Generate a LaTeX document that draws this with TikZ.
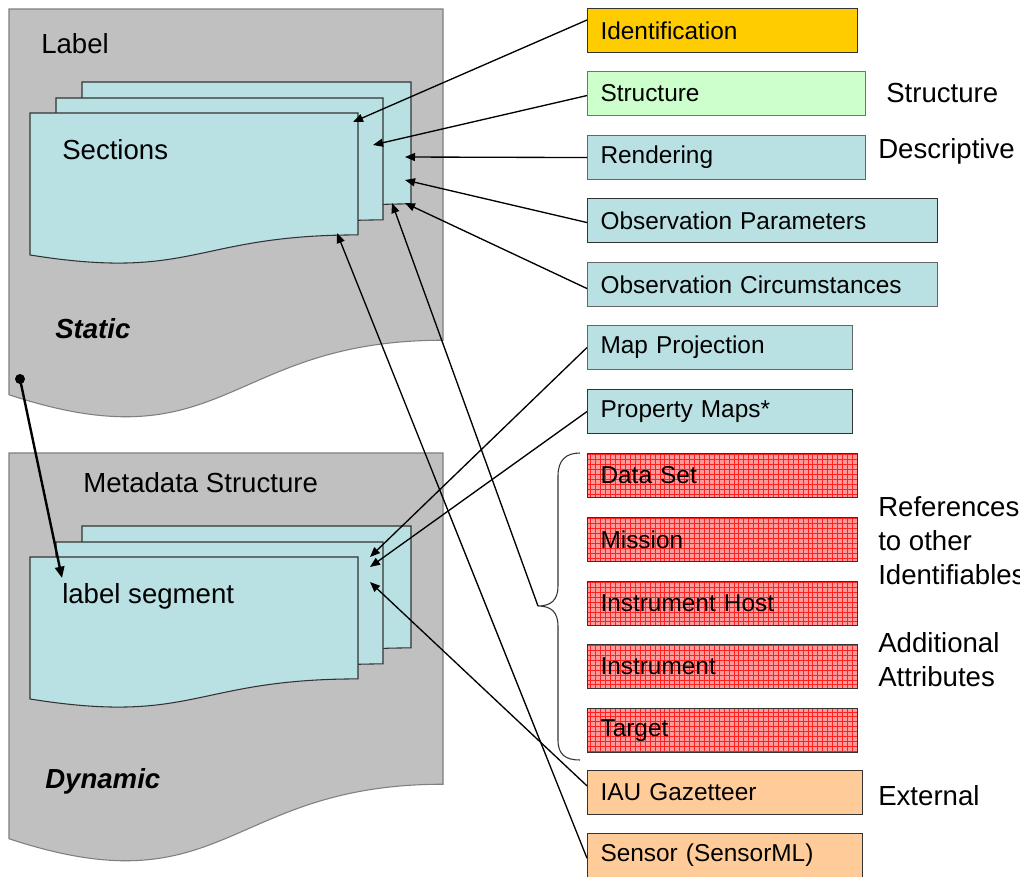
\documentclass[tikz,border=0pt]{standalone}
\usepackage{fontspec}
\setmainfont{Liberation Sans}
\usetikzlibrary{arrows.meta,calc}
\definecolor{docgray}{HTML}{C0C0C0}
\definecolor{docline}{HTML}{7F7F7F}
\definecolor{pagecyan}{HTML}{B9E0E3}
\definecolor{gold}{HTML}{FFCC00}
\definecolor{lgreen}{HTML}{CCFFCC}
\definecolor{peach}{HTML}{FFCC99}
\definecolor{gridred}{HTML}{FF9A9A}
\definecolor{gridline}{HTML}{FF2020}
\newcommand\docshape[5]{\path[#1] (#2,#3) -- (#2+#4,#3) -- (#2+#4,#3+0.802*#5) .. controls (#2+0.5*#4,#3+0.802*#5) and (#2+0.5*#4,#3+1.1075*#5) .. (#2,#3+0.934*#5) -- cycle;}
\begin{document}
\begin{tikzpicture}[x=0.75pt,y=-0.75pt,
  box/.style={draw=black!80, line width=0.8pt, anchor=north west, minimum height=33pt,
    inner xsep=9.75pt, inner ysep=0pt, align=left, font=\fontsize{18.3}{22}\selectfont},
  redbox/.style={box, fill=gridred, path picture={\draw[gridline, line width=0.3pt, step=3.7pt]
    (path picture bounding box.south west) grid (path picture bounding box.north east);}},
  lbl/.style={anchor=base west, inner sep=0pt, font=\fontsize{20.7}{25.5}\selectfont},
  arr/.style={line width=1pt, -{Triangle[length=7.5pt,width=6pt]}},
  grayshape/.style={fill=docgray, draw=docline, line width=0.8pt},
  pageshape/.style={fill=pagecyan, draw=black!80, line width=0.8pt}]
\useasboundingbox (0,0) rectangle (1026,876);
\fill[white] (0,0) rectangle (1026,876);

% left documents
\docshape{grayshape}{9}{9}{434}{413}
\docshape{pageshape}{82}{82}{329}{152}
\docshape{pageshape}{56}{98}{327}{152}
\docshape{pageshape}{30}{113}{328}{152}
\docshape{grayshape}{9}{453}{434}{413}
\docshape{pageshape}{82}{526}{329}{152}
\docshape{pageshape}{56}{542}{327}{152}
\docshape{pageshape}{30}{557}{328}{152}

\node[lbl] (labelT) at (41,53) {Label};
\node[lbl] (sectT) at (62,159) {Sections};
\node[lbl] (staticT) at (55,338) {\bfseries\itshape Static};
\node[lbl] (metaT) at (83,492) {Metadata Structure};
\node[lbl] (segT) at (62,603) {label segment};
\node[lbl] (dynT) at (45,788) {\bfseries\itshape Dynamic};

% right boxes
\node[box, fill=gold, text width=183pt] (ident) at (587,8) {Identification};
\node[box, fill=lgreen, draw=black!55, text width=189pt] (struct) at (587,71) {Structure};
\node[box, fill=pagecyan, draw=black!60, text width=189pt] (rend) at (587,135) {Rendering};
\node[box, fill=pagecyan, text width=243pt] (obsp) at (587,198) {Observation Parameters};
\node[box, fill=pagecyan, draw=black!60, text width=243pt] (obsc) at (587,262) {Observation Circumstances};
\node[box, fill=pagecyan, draw=black!60, text width=179.25pt] (mapp) at (587,325) {Map Projection};
\node[box, fill=pagecyan, text width=179.25pt] (propm) at (587,389) {Property Maps*};
\node[redbox, text width=183pt] (dset) at (587,453) {Data Set};
\node[redbox, text width=183pt] (miss) at (587,517) {Mission};
\node[redbox, text width=183pt] (ihost) at (587,581) {Instrument Host};
\node[redbox, text width=183pt] (instr) at (587,644) {Instrument};
\node[redbox, text width=183pt] (targ) at (587,708) {Target};
\node[box, fill=peach, text width=186.75pt] (iau) at (587,770) {IAU Gazetteer};
\node[box, fill=peach, text width=186.75pt] (sens) at (587,833) {Sensor (SensorML)};

% right labels (cut at the right edge as in the picture)
\begin{scope}
\clip (860,0) rectangle (1019,876);
\node[lbl] (lStruct) at (886,102) {Structure};
\node[lbl] (lDesc) at (878,158) {Descriptive};
\node[lbl] (lRef1) at (878,516) {References};
\node[lbl] (lRef2) at (878,550) {to other};
\node[lbl] (lRef3) at (878,584) {Identifiables};
\node[lbl] (lAdd1) at (878,652) {Additional};
\node[lbl] (lAdd2) at (878,686) {Attributes};
\node[lbl] (lExt) at (878,805) {External};
\end{scope}

% brace
\draw[black!80, line width=0.8pt] (580,453) .. controls (566,453) and (558,460) .. (558,476)
  -- (558,586) .. controls (558,600) and (551,606) .. (538,606)
  .. controls (551,606) and (558,612) .. (558,626)
  -- (558,740) .. controls (558,755) and (566,760) .. (580,760);
\coordinate (braceTip) at (538,606);

% target points
\coordinate (tI) at (353,122);
\coordinate (tS) at (373,145);
\coordinate (tR) at (405,157);
\coordinate (tOP) at (405,180);
\coordinate (tOC) at (405,203);
\coordinate (tB) at (392,203);
\coordinate (tF) at (337,233);
\coordinate (tMP) at (370,557);
\coordinate (tPM) at (370,567);
\coordinate (tIAU) at (370,582);
\coordinate (tSeg) at (62,578);
\node[circle, fill=black, inner sep=0pt, minimum size=7.5pt] (dot) at (20,379) {};

% connectors
\draw[arr] ([yshift=7.9pt]ident.west) -- (tI);
\draw[arr] ([yshift=-1.5pt]struct.west) -- (tS);
\draw[arr] (rend.west) -- (tR);
\draw[arr] ([yshift=-1.5pt]obsp.west) -- (tOP);
\draw[arr] ([yshift=-3pt]obsc.west) -- (tOC);
\draw[arr] (mapp.west) -- (tMP);
\draw[arr] (propm.west) -- (tPM);
\draw[arr] ([yshift=5pt]iau.west) -- (tIAU);
\draw[arr] ([yshift=-2pt]sens.west) -- (tF);
\draw[arr] (braceTip) -- (tB);
\draw[line width=1.8pt, -{Triangle[length=8.5pt,width=7pt]}] (dot.center) -- (tSeg);
\end{tikzpicture}
\end{document}
